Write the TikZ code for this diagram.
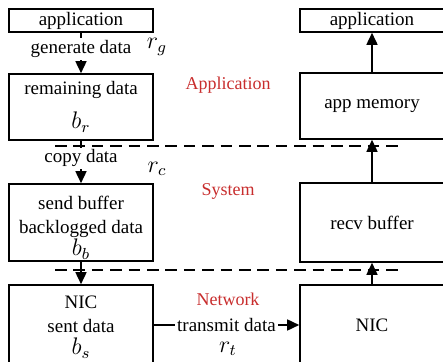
\documentclass[tikz,border=0pt]{standalone}
\usepackage{fontspec}
\setmainfont{Liberation Serif}
\usepackage{tikz}
\usetikzlibrary{arrows.meta}
\definecolor{layerred}{RGB}{200,45,45}

\begin{document}
\begin{tikzpicture}[x=0.5pt,y=-0.5pt,font=\fontsize{9.5}{12}\selectfont,
    box/.style={draw,thick,rectangle,align=center,inner sep=0pt,minimum width=72pt},
    inbox/.style={align=center,inner sep=0pt},
    flow/.style={thick,-{Triangle[length=6pt,width=5.5pt]}},
    layer/.style={thick,dash pattern=on 5.8pt off 3.4pt},
    lbl/.style={fill=white,inner sep=1pt},
    layername/.style={text=layerred,font=\fontsize{9}{11}\selectfont},
    rate/.style={font=\large,inner sep=0.5pt}]
    \useasboundingbox (0,0) rectangle (443,362);
    \clip (0,0) rectangle (443,362);
    % sender side
    \node[box,minimum height=11.5pt] (appL) at (81,20.5) {application};
    \node[box,minimum height=33pt] (remL) at (81,107) {remaining data\\[5pt]{\large$b_r$}};
    \node[box,minimum height=38.5pt] (sendL) at (81,222.5) {};
    \node[inbox] (sendT) at (81,228) {send buffer\\backlogged data\\[-1pt]{\large$b_b$}};
    \node[box,minimum height=40pt] (nicL) at (81,325) {};
    \node[inbox] (nicT) at (81,327) {NIC\\sent data\\[-1pt]{\large$b_s$}};
    % receiver side
    \node[box,minimum height=11.5pt] (appR) at (372,20.5) {application};
    \node[box,minimum height=33pt] (memR) at (372,106) {app memory};
    \node[box,minimum height=39.5pt] (recvR) at (372,222.5) {recv buffer};
    \node[box,minimum height=40pt] (nicR) at (372,325) {NIC};
    % layer borders
    \coordinate (l1a) at (55,146); \coordinate (l1b) at (403,146);
    \coordinate (l2a) at (55,270); \coordinate (l2b) at (403,270);
    \draw[layer] (l1a) -- (l1b);
    \draw[layer] (l2a) -- (l2b);
    % data path
    \draw[flow] (appL) -- node[lbl,pos=0.4] (gen) {generate data} (remL);
    \draw[flow] (remL) -- node[lbl,pos=0.41] (copy) {copy data} (sendL);
    \draw[flow] (sendL) -- (nicL);
    \draw[flow] (nicL) -- node[lbl,pos=0.5] (xmit) {transmit data} (nicR);
    \draw[flow] (nicR) -- (recvR);
    \draw[flow] (recvR) -- (memR);
    \draw[flow] (memR) -- (appR);
    % rates
    \node[rate] (rg) at (157,47) {$r_g$};
    \node[rate] (rc) at (157,169) {$r_c$};
    \node[rate] (rt) at (228,349) {$r_t$};
    % layers
    \node[layername] (lapp) at (228,85) {Application};
    \node[layername] (lsys) at (228,191) {System};
    \node[layername] (lnet) at (228,299) {Network};
\end{tikzpicture}
\end{document}
